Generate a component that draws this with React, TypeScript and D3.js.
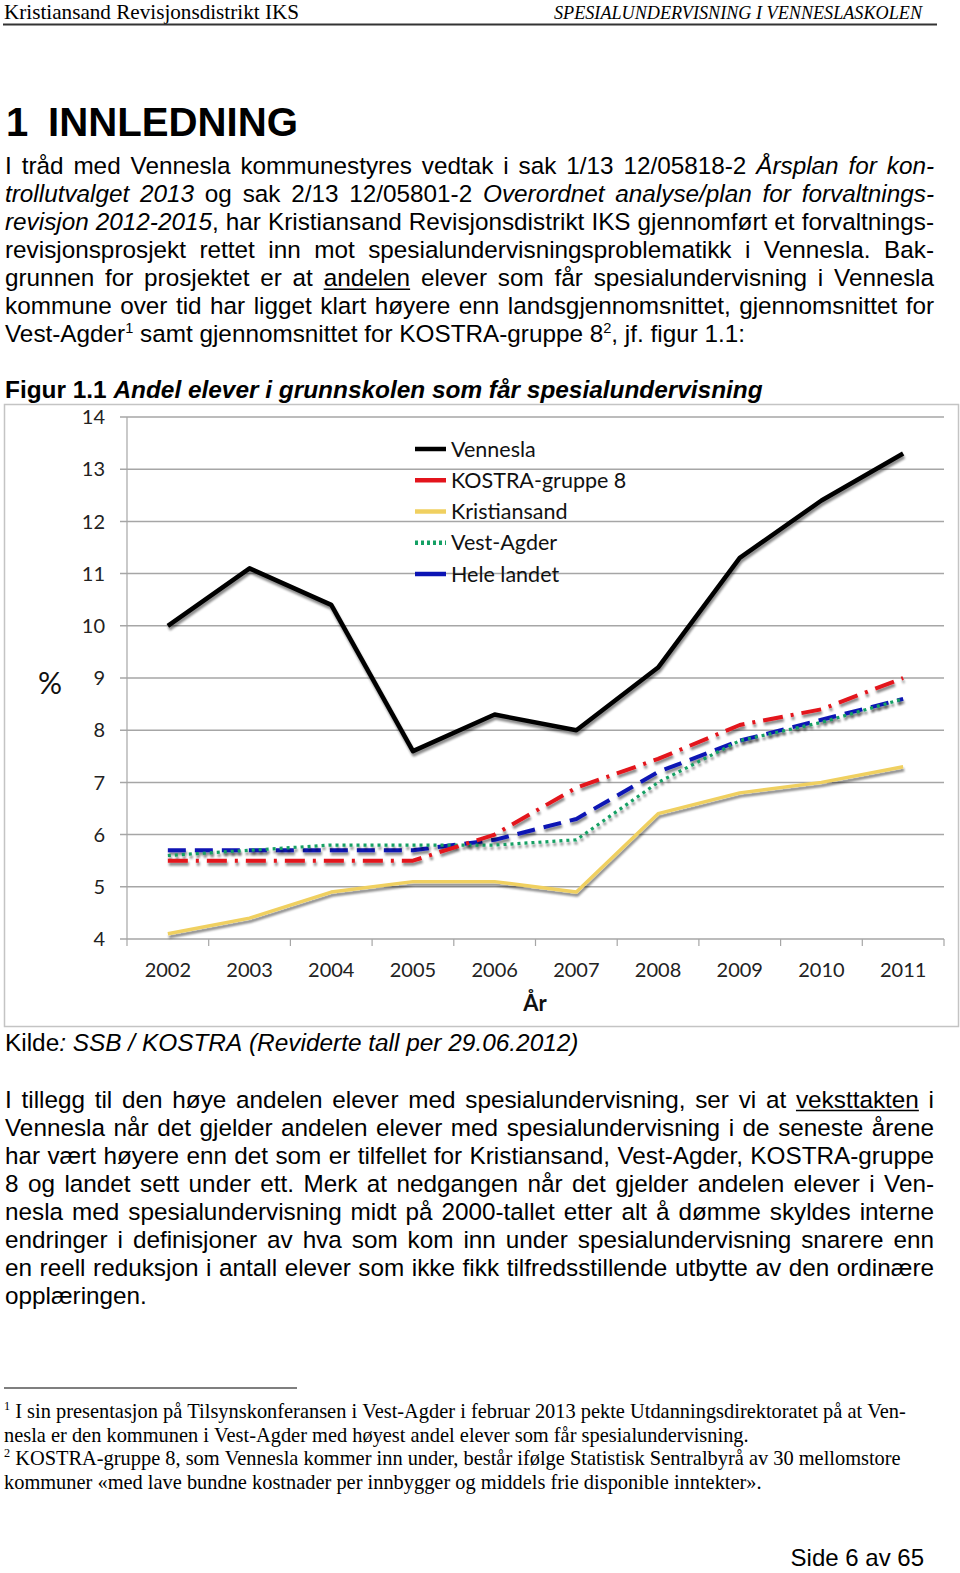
import React from 'react';
import * as d3 from 'd3';

// ---------- DATA ----------
const years = ['2002', '2003', '2004', '2005', '2006', '2007', '2008', '2009', '2010', '2011'];
const vennesla = [10.0, 11.1, 10.4, 7.6, 8.3, 8.0, 9.2, 11.3, 12.4, 13.3];
const kostra8 = [5.5, 5.5, 5.5, 5.5, 6.0, 6.9, 7.45, 8.1, 8.4, 9.0];
const kristiansand = [4.1, 4.4, 4.9, 5.1, 5.1, 4.9, 6.4, 6.8, 7.0, 7.3];
const vestAgder = [5.6, 5.7, 5.8, 5.8, 5.8, 5.9, 7.0, 7.8, 8.15, 8.6];
const heleLandet = [5.7, 5.7, 5.7, 5.7, 5.9, 6.3, 7.2, 7.8, 8.2, 8.6];
const yTicks = [4, 5, 6, 7, 8, 9, 10, 11, 12, 13, 14];
const seriesNames = ['Vennesla', 'KOSTRA-gruppe 8', 'Kristiansand', 'Vest-Agder', 'Hele landet'];

const para1 = [
  'I tråd med Vennesla kommunestyres vedtak i sak 1/13 12/05818-2 *Årsplan for kon-*',
  '*trollutvalget 2013* og sak 2/13 12/05801-2 *Overordnet analyse/plan for forvaltnings-*',
  '*revisjon 2012-2015*, har Kristiansand Revisjonsdistrikt IKS gjennomført et forvaltnings-',
  'revisjonsprosjekt rettet inn mot spesialundervisningsproblematikk i Vennesla. Bak-',
  'grunnen for prosjektet er at _andelen_ elever som får spesialundervisning i Vennesla',
  'kommune over tid har ligget klart høyere enn landsgjennomsnittet, gjennomsnittet for',
  'Vest-Agder^1^ samt gjennomsnittet for KOSTRA-gruppe 8^2^, jf. figur 1.1:',
];
const para2 = [
  'I tillegg til den høye andelen elever med spesialundervisning, ser vi at _veksttakten_ i',
  'Vennesla når det gjelder andelen elever med spesialundervisning i de seneste årene',
  'har vært høyere enn det som er tilfellet for Kristiansand, Vest-Agder, KOSTRA-gruppe',
  '8 og landet sett under ett. Merk at nedgangen når det gjelder andelen elever i Ven-',
  'nesla med spesialundervisning midt på 2000-tallet etter alt å dømme skyldes interne',
  'endringer i definisjoner av hva som kom inn under spesialundervisning snarere enn',
  'en reell reduksjon i antall elever som ikke fikk tilfredsstillende utbytte av den ordinære',
  'opplæringen.',
];
const footnotes = [
  '^1^ I sin presentasjon på Tilsynskonferansen i Vest-Agder i februar 2013 pekte Utdanningsdirektoratet på at Ven-',
  'nesla er den kommunen i Vest-Agder med høyest andel elever som får spesialundervisning.',
  '^2^ KOSTRA-gruppe 8, som Vennesla kommer inn under, består ifølge Statistisk Sentralbyrå av 30 mellomstore',
  'kommuner «med lave bundne kostnader per innbygger og middels frie disponible inntekter».',
];

// ---------- TEXT HELPERS ----------
type Run = { t: string; i: boolean; b: boolean; u: boolean; s: boolean };
function parse(src: string, bold: boolean): Run[][] {
  const words: Run[][] = [];
  let cur: Run[] = [];
  let i = false, u = false, s = false;
  let buf = '';
  const flush = () => { if (buf) { cur.push({ t: buf, i, b: bold, u, s }); buf = ''; } };
  for (const ch of src) {
    if (ch === '*') { flush(); i = !i; }
    else if (ch === '_') { flush(); u = !u; }
    else if (ch === '^') { flush(); s = !s; }
    else if (ch === ' ') { flush(); if (cur.length) words.push(cur); cur = []; }
    else buf += ch;
  }
  flush();
  if (cur.length) words.push(cur);
  return words;
}
let ctx: CanvasRenderingContext2D | null = null;
function measure(t: string, font: string) {
  if (!ctx) ctx = document.createElement('canvas').getContext('2d');
  ctx!.font = font;
  return ctx!.measureText(t).width;
}

function TextLine(props: { src: string; x0: number; x1: number; y: number; size: number; family: string; justify: boolean; bold?: boolean; k: string }) {
  const { src, x0, x1, y, size, family, justify, bold = false } = props;
  const words = parse(src, bold);
  const sz = (r: Run) => (r.s ? size * 0.6 : size);
  const fontOf = (r: Run) => `${r.i ? 'italic ' : ''}${r.b ? 'bold ' : ''}${sz(r)}px ${family}`;
  const widths = words.map(w => w.map(r => measure(r.t, fontOf(r))));
  const wordW = widths.map(ws => d3.sum(ws));
  const spaceW = measure(' ', `${bold ? 'bold ' : ''}${size}px ${family}`);
  const total = d3.sum(wordW);
  const gap = justify && words.length > 1 ? (x1 - x0 - total) / (words.length - 1) : spaceW;
  const out: React.ReactNode[] = [];
  let x = x0;
  words.forEach((w, wi) => {
    w.forEach((r, ri) => {
      const rw = widths[wi][ri];
      out.push(
        <text key={`${wi}-${ri}`} x={x} y={r.s ? y - size * 0.4 : y} fontFamily={family} fontSize={sz(r)}
          fontStyle={r.i ? 'italic' : 'normal'} fontWeight={r.b ? 'bold' : 'normal'} fill="#000">{r.t}</text>
      );
      if (r.u) out.push(<line key={`u${wi}-${ri}`} x1={x} x2={x + rw} y1={y + 3} y2={y + 3} stroke="#000" strokeWidth={1.4} />);
      x += rw;
    });
    x += gap;
  });
  return <g>{out}</g>;
}

const SANS = "'Liberation Sans', Arial, sans-serif";
const SERIF = "'Liberation Serif', 'Times New Roman', serif";
const CHART = "Lato, 'Open Sans', sans-serif";

// ---------- CHART ----------
function Chart() {
  const x = d3.scaleBand<string>().domain(years).range([127, 944]);
  const y = d3.scaleLinear().domain([4, 14]).range([939, 417]);
  const cx = (yr: string) => (x(yr) as number) + x.bandwidth() / 2;
  const line = (vals: number[]) =>
    d3.line<number>().x((_, i) => cx(years[i])).y(v => y(v))(vals) as string;

  const series = [
    { name: seriesNames[4], vals: heleLandet, color: '#0c14b4', w: 4, dash: '18 9' },
    { name: seriesNames[3], vals: vestAgder, color: '#14a064', w: 3.2, dash: '3 4' },
    { name: seriesNames[2], vals: kristiansand, color: '#f0d060', w: 3.4, dash: '' },
    { name: seriesNames[1], vals: kostra8, color: '#e3141c', w: 4, dash: '20 8 3 8' },
    { name: seriesNames[0], vals: vennesla, color: '#000', w: 4.5, dash: '' },
  ];
  const legend = [
    { name: seriesNames[0], color: '#000', dash: '' },
    { name: seriesNames[1], color: '#e3141c', dash: '' },
    { name: seriesNames[2], color: '#f0d060', dash: '' },
    { name: seriesNames[3], color: '#14a064', dash: '3 3' },
    { name: seriesNames[4], color: '#0c14b4', dash: '' },
  ];
  const legendY = d3.scalePoint<string>().domain(legend.map(l => l.name)).range([449, 574]);
  const ticks = years.map(yr => x(yr) as number).concat([944]);

  return (
    <g>
      <defs>
        <filter id="sh" x="-5%" y="-10%" width="110%" height="130%">
          <feDropShadow dx="1" dy="3" stdDeviation="1.2" floodColor="#000" floodOpacity="0.45" />
        </filter>
      </defs>
      <rect x={4.5} y={404.5} width={954} height={622} fill="#fff" stroke="#c4c4c4" strokeWidth={1.5} />
      {yTicks.map(t => (
        <g key={t}>
          <line x1={120} x2={944} y1={y(t)} y2={y(t)} stroke="#a6a6a6" strokeWidth={1.5} />
          <text x={105} y={y(t)} dy="0.36em" textAnchor="end" fontFamily={CHART} fontSize={20} fill="#222">{t}</text>
        </g>
      ))}
      <line x1={127} x2={127} y1={417} y2={939} stroke="#a6a6a6" strokeWidth={1.2} />
      {ticks.map((t, i) => (
        <line key={i} x1={t} x2={t} y1={939} y2={946} stroke="#a6a6a6" strokeWidth={1.2} />
      ))}
      {years.map(yr => (
        <text key={yr} x={cx(yr)} y={977} textAnchor="middle" fontFamily={CHART} fontSize={20} fill="#222">{yr}</text>
      ))}
      <text x={535} y={1011} textAnchor="middle" fontFamily={CHART} fontSize={22} fontWeight="bold" fill="#111">År</text>
      <text x={50} y={694} textAnchor="middle" fontFamily={CHART} fontSize={30} fill="#111">%</text>
      {series.map(s => (
        <path key={s.name} d={line(s.vals)} fill="none" stroke={s.color} strokeWidth={s.w}
          strokeDasharray={s.dash || undefined} strokeLinejoin="round" filter="url(#sh)" />
      ))}
      {legend.map(l => (
        <g key={l.name}>
          <line x1={415} x2={446} y1={legendY(l.name)} y2={legendY(l.name)} stroke={l.color} strokeWidth={4.5}
            strokeDasharray={l.dash || undefined} />
          <text x={451} y={legendY(l.name)} dy="0.36em" fontFamily={CHART} fontSize={21.5} fill="#111">{l.name}</text>
        </g>
      ))}
    </g>
  );
}

export default function App() {
  return (
    <svg width={960} height={1573} style={{ position: 'absolute', left: 0, top: 0, display: 'block', background: '#fff' }}>
      {/* header */}
      <text x={4} y={19} fontFamily={SERIF} fontSize={21} textLength={295} lengthAdjust="spacingAndGlyphs">Kristiansand Revisjonsdistrikt IKS</text>
      <text x={554} y={19} fontFamily={SERIF} fontSize={18} fontStyle="italic" textLength={368} lengthAdjust="spacingAndGlyphs">SPESIALUNDERVISNING I VENNESLASKOLEN</text>
      <line x1={3} x2={937} y1={24.5} y2={24.5} stroke="#333" strokeWidth={2} />

      {/* heading */}
      <text x={6} y={136} fontFamily={SANS} fontSize={40} fontWeight="bold">1</text>
      <text x={48} y={136} fontFamily={SANS} fontSize={40} fontWeight="bold" textLength={250} lengthAdjust="spacingAndGlyphs">INNLEDNING</text>

      {para1.map((l, i) => (
        <TextLine key={'p1' + i} k={'p1' + i} src={l} x0={5} x1={934} y={173.8 + 28.1 * i} size={24.3} family={SANS} justify={i < para1.length - 1} />
      ))}

      <TextLine k="cap" src="Figur 1.1 *Andel elever i grunnskolen som får spesialundervisning*" x0={5} x1={760} y={397.5} size={24.4} family={SANS} justify={false} bold />

      <Chart />

      <TextLine k="kilde" src="Kilde*: SSB / KOSTRA (Reviderte tall per 29.06.2012)*" x0={5} x1={580} y={1051} size={24.4} family={SANS} justify={false} />

      {para2.map((l, i) => (
        <TextLine key={'p2' + i} k={'p2' + i} src={l} x0={5} x1={934} y={1107.5 + 28 * i} size={24.3} family={SANS} justify={i < para2.length - 1} />
      ))}

      <line x1={4} x2={297} y1={1388} y2={1388} stroke="#000" strokeWidth={1.2} />
      {footnotes.map((l, i) => (
        <TextLine key={'f' + i} k={'f' + i} src={l} x0={4} x1={908} y={1418 + 23.5 * i} size={20.4} family={SERIF} justify={false} />
      ))}

      <text x={924} y={1566} textAnchor="end" fontFamily={SANS} fontSize={24}>Side 6 av 65</text>
    </svg>
  );
}
